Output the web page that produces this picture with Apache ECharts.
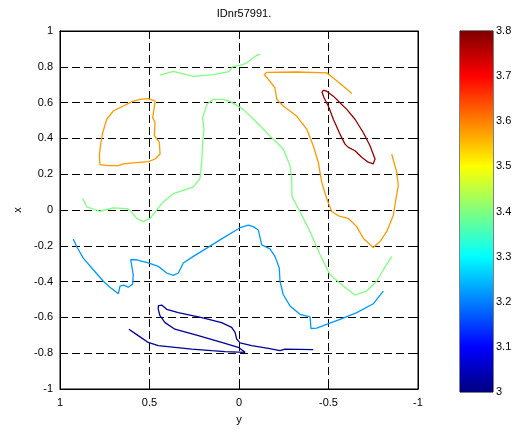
<!DOCTYPE html>
<html>
<head>
<meta charset="utf-8">
<script src="https://cdn.jsdelivr.net/npm/echarts@6/dist/echarts.min.js"></script>
<style>
  html, body { margin: 0; padding: 0; background: #fff; }
  #chart { width: 527px; height: 430px; }
</style>
</head>
<body>
<div id="chart"></div>
<script>
const titleText = 'IDnr57991.'
const xTicks = [1, 0.5, 0, -0.5, -1]
const yTicks = [-1, -0.8, -0.6, -0.4, -0.2, 0, 0.2, 0.4, 0.6, 0.8, 1]
const colorMin = 3
const colorMax = 3.8

// contour levels, one per line
const levels = [3.02, 3.22, 3.4, 3.4, 3.58, 3.58, 3.78]

// contour lines as [y, x] points
const darkBlueLine = [
  [0.615, -0.666], [0.563, -0.702], [0.507, -0.74], [0.451, -0.758], [0.358, -0.767],
  [0.264, -0.777], [0.153, -0.786], [0.078, -0.791], [-0.034, -0.795], [0.004, -0.767],
  [0.097, -0.74], [0.227, -0.702], [0.358, -0.666], [0.413, -0.629], [0.441, -0.592],
  [0.451, -0.555], [0.451, -0.536], [0.432, -0.531], [0.404, -0.555], [0.339, -0.573],
  [0.208, -0.601], [0.097, -0.629], [0.041, -0.656], [0.022, -0.684], [0.013, -0.721],
  [-0.006, -0.742], [-0.071, -0.758], [-0.164, -0.773], [-0.229, -0.786], [-0.257, -0.777],
  [-0.415, -0.78]
]
const blueLine = [
  [0.926, -0.162], [0.907, -0.204], [0.87, -0.269], [0.814, -0.334], [0.758, -0.398],
  [0.721, -0.431], [0.674, -0.468], [0.665, -0.425], [0.646, -0.42], [0.618, -0.431],
  [0.594, -0.413], [0.591, -0.361], [0.605, -0.278], [0.572, -0.278], [0.507, -0.296],
  [0.451, -0.315], [0.404, -0.352], [0.367, -0.365], [0.339, -0.352], [0.311, -0.296],
  [0.255, -0.259], [0.18, -0.213], [0.106, -0.167], [-0.006, -0.099], [-0.052, -0.084],
  [-0.08, -0.093], [-0.108, -0.112], [-0.127, -0.195], [-0.173, -0.217], [-0.201, -0.259],
  [-0.225, -0.324], [-0.229, -0.398], [-0.247, -0.472], [-0.285, -0.536], [-0.341, -0.583],
  [-0.397, -0.597], [-0.402, -0.662], [-0.434, -0.66], [-0.564, -0.611], [-0.658, -0.573],
  [-0.75, -0.524], [-0.806, -0.453]
]
const greenLongLine = [
  [-0.853, -0.259], [-0.806, -0.334], [-0.769, -0.398], [-0.713, -0.453], [-0.648, -0.475],
  [-0.583, -0.425], [-0.508, -0.361], [-0.453, -0.25], [-0.397, -0.121], [-0.341, -0.01],
  [-0.296, 0.075], [-0.294, 0.175], [-0.285, 0.248], [-0.247, 0.341], [-0.173, 0.414],
  [-0.099, 0.489], [-0.024, 0.562], [0.05, 0.607], [0.088, 0.618], [0.144, 0.618],
  [0.18, 0.59], [0.203, 0.516], [0.196, 0.452], [0.203, 0.378], [0.208, 0.267],
  [0.218, 0.175], [0.255, 0.129], [0.311, 0.11], [0.367, 0.091], [0.423, 0.045],
  [0.46, -0.001], [0.497, -0.047], [0.535, -0.065], [0.572, -0.047], [0.609, -0.001],
  [0.627, 0.008], [0.702, 0.012], [0.777, -0.007], [0.851, 0.018], [0.873, 0.064]
]
const greenTopLine = [
  [0.441, 0.753], [0.367, 0.775], [0.255, 0.747], [0.144, 0.756], [0.056, 0.773],
  [0.035, 0.801], [-0.006, 0.808], [-0.043, 0.821], [-0.089, 0.858], [-0.117, 0.871]
]
const orangeLeftLoop = [
  [0.553, 0.618], [0.507, 0.622], [0.469, 0.608], [0.475, 0.562], [0.482, 0.516],
  [0.469, 0.489], [0.473, 0.415], [0.445, 0.378], [0.441, 0.313], [0.469, 0.285],
  [0.507, 0.27], [0.591, 0.263], [0.646, 0.258], [0.674, 0.248], [0.73, 0.248],
  [0.777, 0.254], [0.78, 0.304], [0.773, 0.368], [0.761, 0.433], [0.739, 0.507],
  [0.702, 0.553], [0.646, 0.581], [0.591, 0.608], [0.553, 0.618]
]
const orangeRightLine = [
  [-0.63, 0.651], [-0.583, 0.691], [-0.527, 0.738], [-0.49, 0.766], [-0.322, 0.771],
  [-0.155, 0.769], [-0.141, 0.756], [-0.173, 0.719], [-0.201, 0.683], [-0.211, 0.618],
  [-0.247, 0.581], [-0.322, 0.525], [-0.378, 0.452], [-0.415, 0.359], [-0.443, 0.267],
  [-0.462, 0.156], [-0.49, 0.064], [-0.518, -0.01], [-0.564, -0.036], [-0.611, -0.047],
  [-0.658, -0.093], [-0.694, -0.158], [-0.75, -0.209], [-0.788, -0.176], [-0.825, -0.121],
  [-0.862, -0.029], [-0.877, 0.064], [-0.89, 0.137], [-0.881, 0.212], [-0.853, 0.313]
]
const darkRedLoop = [
  [-0.471, 0.669], [-0.49, 0.664], [-0.527, 0.636], [-0.564, 0.599], [-0.602, 0.562],
  [-0.648, 0.507], [-0.694, 0.433], [-0.732, 0.359], [-0.76, 0.285], [-0.75, 0.258],
  [-0.722, 0.267], [-0.685, 0.295], [-0.648, 0.331], [-0.611, 0.35], [-0.592, 0.368],
  [-0.564, 0.424], [-0.527, 0.507], [-0.499, 0.581], [-0.475, 0.627], [-0.464, 0.658],
  [-0.471, 0.669]
]

const contourLines = [darkBlueLine, blueLine, greenLongLine, greenTopLine, orangeLeftLoop, orangeRightLine, darkRedLoop]

// MATLAB jet
const jetStops = [
  [0, [0, 0, 0.5]], [0.125, [0, 0, 1]], [0.375, [0, 1, 1]],
  [0.625, [1, 1, 0]], [0.875, [1, 0, 0]], [1, [0.5, 0, 0]]
]
const toHex = c => '#' + c.map(v => Math.round(v * 255).toString(16).padStart(2, '0')).join('')
const jet = t => {
  t = Math.max(0, Math.min(1, t))
  for (let i = 1; i < jetStops.length; i++) {
    const [t1, c1] = jetStops[i]
    const [t0, c0] = jetStops[i - 1]
    if (t <= t1) {
      const f = (t - t0) / (t1 - t0)
      return toHex(c0.map((v, k) => v + (c1[k] - v) * f))
    }
  }
  return toHex(jetStops[jetStops.length - 1][1])
}
const levelColor = v => jet((v - colorMin) / (colorMax - colorMin))

const font = 'Liberation Sans'
const tickLabel = { color: '#000', fontFamily: font, fontSize: 11 }
const axisLine = { onZero: false, lineStyle: { color: '#000' } }

const chart = echarts.init(document.getElementById('chart'))

const lineSeries = contourLines.map((pts, i) => ({
  type: 'line',
  xAxisIndex: 0,
  yAxisIndex: 0,
  data: pts,
  showSymbol: false,
  symbol: 'none',
  smooth: false,
  lineStyle: { color: levelColor(levels[i]), width: 1.3 },
  silent: true,
  z: 5,
}))

const option = {
  backgroundColor: '#fff',
  animation: false,
  title: {
    text: titleText,
    left: 239,
    top: 3,
    textAlign: 'center',
    textStyle: { fontFamily: font, fontSize: 11, fontWeight: 'normal', color: '#000' },
  },
  grid: [
    { left: 60, top: 31, width: 358, height: 361, show: true, borderColor: '#000', borderWidth: 1, backgroundColor: '#fff' },
    { left: 460, top: 31, width: 33, height: 361, show: true, borderColor: '#000', borderWidth: 1 },
  ],
  xAxis: [
    {
      gridIndex: 0, type: 'value', min: -1, max: 1, interval: 0.5, inverse: true, position: 'bottom',
      name: 'y', nameLocation: 'middle', nameGap: 25,
      nameTextStyle: { color: '#000', fontFamily: font, fontSize: 11 },
      axisLine,
      axisTick: { inside: true, length: 5, lineStyle: { color: '#000' } },
      axisLabel: { ...tickLabel, margin: 8 },
      splitLine: { show: true, lineStyle: { color: '#000', type: [8, 4], width: 1 } },
    },
    {
      gridIndex: 0, type: 'value', min: -1, max: 1, interval: 0.5, inverse: true, position: 'top',
      axisLine,
      axisTick: { inside: true, length: 5, lineStyle: { color: '#000' } },
      axisLabel: { show: false },
      splitLine: { show: false },
    },
    {
      gridIndex: 1, type: 'category', data: ['c'], show: false,
    },
  ],
  yAxis: [
    {
      gridIndex: 0, type: 'value', min: -1, max: 1, interval: 0.2, position: 'left',
      name: 'x', nameLocation: 'middle', nameGap: 35, nameRotate: 90,
      nameTextStyle: { color: '#000', fontFamily: font, fontSize: 11 },
      axisLine,
      axisTick: { inside: true, length: 5, lineStyle: { color: '#000' } },
      axisLabel: { ...tickLabel, margin: 7 },
      splitLine: { show: true, lineStyle: { color: '#000', type: [8, 4], width: 1 } },
    },
    {
      gridIndex: 0, type: 'value', min: -1, max: 1, interval: 0.2, position: 'right',
      axisLine,
      axisTick: { inside: true, length: 5, lineStyle: { color: '#000' } },
      axisLabel: { show: false },
      splitLine: { show: false },
    },
    {
      gridIndex: 1, type: 'value', min: colorMin, max: colorMax, interval: 0.1, position: 'left',
      axisLine,
      axisTick: { inside: true, length: 4, lineStyle: { color: '#000' } },
      axisLabel: { show: false },
      splitLine: { show: false },
    },
    {
      gridIndex: 1, type: 'value', min: colorMin, max: colorMax, interval: 0.1, position: 'right',
      axisLine,
      axisTick: { inside: true, length: 4, lineStyle: { color: '#000' } },
      axisLabel: { ...tickLabel, margin: 3 },
      splitLine: { show: false },
    },
  ],
  series: [
    ...lineSeries,
    {
      type: 'bar', xAxisIndex: 2, yAxisIndex: 2, stack: 'cb', barWidth: '100%',
      data: [colorMin], itemStyle: { color: 'rgba(0,0,0,0)' }, silent: true, z: 1,
    },
    {
      type: 'bar', xAxisIndex: 2, yAxisIndex: 2, stack: 'cb', barWidth: '100%',
      data: [colorMax - colorMin], silent: true, z: 1,
      itemStyle: {
        color: new echarts.graphic.LinearGradient(0, 1, 0, 0,
          jetStops.map(([t, c]) => ({ offset: t, color: toHex(c) }))),
      },
    },
  ],
}

chart.setOption(option)
</script>
</body>
</html>
